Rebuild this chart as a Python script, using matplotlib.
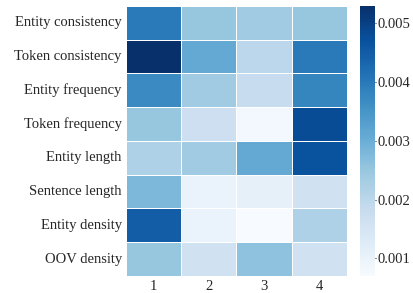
import numpy as np
import matplotlib
matplotlib.use('Agg')
import matplotlib.pyplot as plt
import seaborn as sns

rows = ['Entity consistency', 'Token consistency', 'Entity frequency', 'Token frequency',
        'Entity length', 'Sentence length', 'Entity density', 'OOV density']
cols = ['1', '2', '3', '4']

col1 = [0.0040, 0.0053, 0.0037, 0.0025, 0.0022, 0.0028, 0.0045, 0.0025]
col2 = [0.0025, 0.0031, 0.0024, 0.0017, 0.0024, 0.0010, 0.0010, 0.0016]
col3 = [0.0024, 0.0020, 0.0018, 0.0008, 0.0031, 0.0011, 0.0007, 0.0026]
col4 = [0.0025, 0.0040, 0.0038, 0.0048, 0.0047, 0.0016, 0.0022, 0.0016]

data = np.array([col1, col2, col3, col4]).T

sns.set_style('white')
plt.rcParams['font.family'] = ['Liberation Serif', 'DejaVu Serif']
plt.rcParams['text.color'] = '.15'
plt.rcParams['xtick.color'] = '.15'
plt.rcParams['ytick.color'] = '.15'

fig = plt.figure(figsize=(4.13, 2.93), dpi=100)
ax = fig.add_axes([0.305, 0.058, 0.535, 0.922])
cax = fig.add_axes([0.872, 0.058, 0.036, 0.922])

sns.heatmap(data, ax=ax, cbar_ax=cax, cmap='Blues', linewidths=0.7, linecolor='white',
            xticklabels=cols, yticklabels=rows)
ax.tick_params(axis='both', length=0, labelsize=10.5, pad=3)
ax.set_yticklabels(rows, rotation=0)
cax.tick_params(labelsize=10.5, length=1, pad=0.5)
cax.set_yticks([0.001, 0.002, 0.003, 0.004, 0.005])
for s in cax.spines.values():
    s.set_visible(False)

fig.savefig('out.png', dpi=100)
